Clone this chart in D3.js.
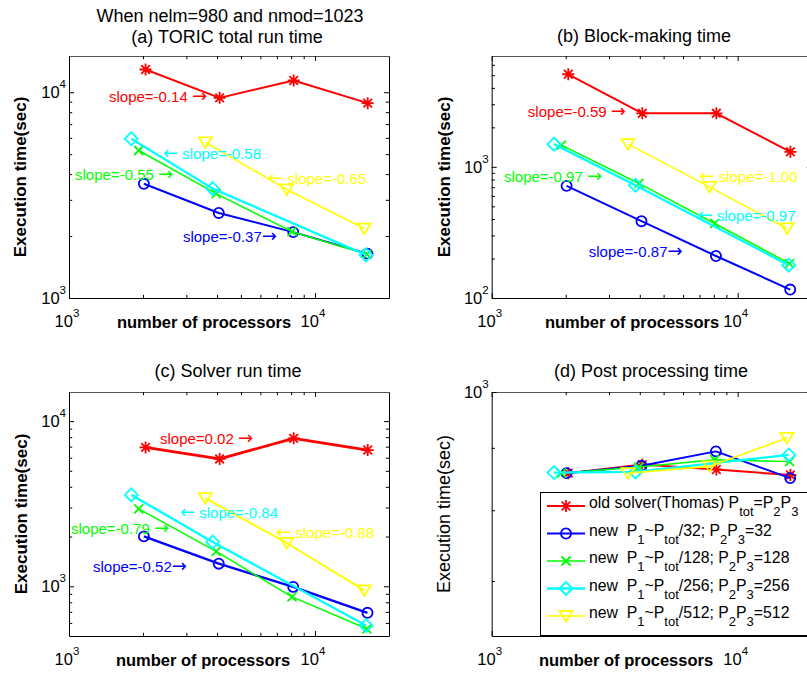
<!DOCTYPE html>
<html>
<head>
<meta charset="utf-8">
<script src="https://cdn.jsdelivr.net/npm/d3@7"></script>
<style>
  html, body { margin: 0; padding: 0; background: #fff; }
  svg { display: block; font-family: "Liberation Sans", Arial, Helvetica, sans-serif; }
</style>
</head>
<body>
<svg id="fig" width="807" height="679"></svg>
<script>
// Processor counts for each solver configuration
const procOld  = [2048, 4096, 8192, 16384];
const procP32  = [2016, 4064, 8160, 16352];
const procP128 = [1920, 3968, 8064, 16256];
const procP256 = [1792, 3840, 16128];
const procP512 = [3584, 7680, 15872];

// (a) TORIC total run time, seconds
const totalOld  = [12900, 9390, 11400, 8850];
const totalP32  = [3590, 2590, 2090, 1643];
const totalP128 = [5210, 3213, 2100, 1630];
const totalP256 = [5940, 3400, 1620];
const totalP512 = [5710, 3370, 2175];

// (b) Block-making time, seconds
const blockOld  = [5080, 2560, 2560, 1302];
const blockP32  = [716, 385, 209, 116];
const blockP128 = [1466, 747, 370, 183];
const blockP256 = [1490, 724, 178];
const blockP512 = [1490, 703, 339];

// (c) Solver run time, seconds
const solverOld  = [6930, 5900, 7863, 6680];
const solverP32  = [2004, 1370, 991, 691];
const solverP128 = [2945, 1626, 863, 553];
const solverP256 = [3575, 1853, 579];
const solverP512 = [3417, 1828, 945];

// (d) Post processing time, seconds
const postOld  = [858, 872, 864, 855];
const postP32  = [858, 870, 894, 850];
const postP128 = [858, 868, 880, 877];
const postP256 = [859, 860, 888];
const postP512 = [858, 869, 917];

// Axis ranges and tick labels
const xDomain = [1000, 20000];
const xMajorTicks = [1000, 10000];
const yDomainTotal  = [1000, 15000];
const yDomainBlock  = [100, 7000];
const yDomainSolver = [500, 15000];
const yDomainPost   = [631, 1000];
const yMajorTotal  = [1000, 10000];
const yMajorBlock  = [100, 1000];
const yMajorSolver = [1000, 10000];
const yMajorPost   = [1000];

// Fitted-slope annotations, anchored in data coordinates (processors, seconds)
// arrow: "r" = arrow after the text, "l" = arrow before it; gap: space between text and arrow
const notesTotal = [
  { s: 0, text: "slope=-0.14", arrow: "r", gap: true,  p: 1454, t: 9460 },
  { s: 3, text: "slope=-0.58", arrow: "l", gap: true,  p: 2410, t: 5000 },
  { s: 2, text: "slope=-0.55", arrow: "r", gap: true,  p: 1058, t: 3960 },
  { s: 4, text: "slope=-0.65", arrow: "l", gap: true,  p: 6445, t: 3785 },
  { s: 1, text: "slope=-0.37", arrow: "r", gap: false, p: 2906, t: 1977 }
];
const notesBlock = [
  { s: 0, text: "slope=-0.59", arrow: "r", gap: true,  p: 1403, t: 2624 },
  { s: 2, text: "slope=-0.97", arrow: "r", gap: true,  p: 1122, t: 841 },
  { s: 4, text: "slope=-1.00", arrow: "l", gap: true,  p: 6993, t: 841 },
  { s: 3, text: "slope=-0.97", arrow: "l", gap: true,  p: 6864, t: 423 },
  { s: 1, text: "slope=-0.87", arrow: "r", gap: false, p: 2481, t: 226 }
];
const notesSolver = [
  { s: 0, text: "slope=0.02",  arrow: "r", gap: true,  p: 2344, t: 7811 },
  { s: 3, text: "slope=-0.84", arrow: "l", gap: true,  p: 2826, t: 2793 },
  { s: 2, text: "slope=-0.79", arrow: "r", gap: true,  p: 1019, t: 2223 },
  { s: 4, text: "slope=-0.88", arrow: "l", gap: true,  p: 6942, t: 2104 },
  { s: 1, text: "slope=-0.52", arrow: "r", gap: false, p: 1252, t: 1315 }
];

const legendLabels = [
  "old solver(Thomas) P_{tot}=P_{2}P_{3}",
  "new  P_{1}~P_{tot}/32; P_{2}P_{3}=32",
  "new  P_{1}~P_{tot}/128; P_{2}P_{3}=128",
  "new  P_{1}~P_{tot}/256; P_{2}P_{3}=256",
  "new  P_{1}~P_{tot}/512; P_{2}P_{3}=512"
];

// Series styling (same order as the legend)
const seriesProcs   = [procOld, procP32, procP128, procP256, procP512];
const seriesColors  = ["#ff0000", "#0000ff", "#00ff00", "#00ffff", "#ffff00"];
const seriesMarkers = ["star", "circle", "cross", "diamond", "triangle"];
const seriesWidths  = [2, 2, 1.5, 2.3, 1.6];
const solverWidths  = [2.8, 2.4, 1.5, 2.4, 2];

const svg = d3.select("#fig");

const panels = [
  { values: [totalOld, totalP32, totalP128, totalP256, totalP512], yDomain: yDomainTotal, yMajor: yMajorTotal,
    notes: notesTotal, left: 69, top: 56, bottom: 298, widths: seriesWidths,
    titles: [["When nelm=980 and nmod=1023", 230, 22], ["(a) TORIC total run time", 227, 43]],
    xlabelX: 204, ylabelX: 20, ylabelBold: true },
  { values: [blockOld, blockP32, blockP128, blockP256, blockP512], yDomain: yDomainBlock, yMajor: yMajorBlock,
    notes: notesBlock, left: 491.7, top: 56, bottom: 298, widths: seriesWidths,
    titles: [["(b) Block-making time", 644, 42]],
    xlabelX: 632, ylabelX: 444, ylabelBold: true },
  { values: [solverOld, solverP32, solverP128, solverP256, solverP512], yDomain: yDomainSolver, yMajor: yMajorSolver,
    notes: notesSolver, left: 69, top: 392, bottom: 636, widths: solverWidths,
    titles: [["(c) Solver run time", 228, 377]],
    xlabelX: 203, ylabelX: 21, ylabelBold: true },
  { values: [postOld, postP32, postP128, postP256, postP512], yDomain: yDomainPost, yMajor: yMajorPost,
    notes: [], left: 491.7, top: 392, bottom: 636, widths: seriesWidths,
    titles: [["(d) Post processing time", 651, 377]],
    xlabelX: 626, ylabelX: 444, ylabelBold: false, legend: true }
];

const AXIS_W = 320;

function minorTicks(domain) {
  const out = [];
  const k0 = Math.floor(Math.log10(domain[0])), k1 = Math.ceil(Math.log10(domain[1]));
  for (let k = k0; k <= k1; k++) {
    for (let m = 2; m <= 9; m++) {
      const v = m * Math.pow(10, k);
      if (v > domain[0] * 1.0001 && v < domain[1] * 0.9999) out.push(v);
    }
  }
  return out;
}

function markerPath(type) {
  switch (type) {
    case "star": return "M-6,0H6M0,-6V6M-4.3,-4.3L4.3,4.3M-4.3,4.3L4.3,-4.3";
    case "cross": return "M-4.5,-4.5L4.5,4.5M-4.5,4.5L4.5,-4.5";
    case "diamond": return "M0,-6.5L6.5,0L0,6.5L-6.5,0Z";
    case "triangle": return "M-6.5,-5H6.5L0,5.5Z";
    default: return d3.symbol(d3.symbolCircle, 80)();
  }
}

function drawMarker(g, type, cx, cy, color) {
  g.append("path")
    .attr("d", markerPath(type))
    .attr("transform", `translate(${cx},${cy})`)
    .attr("fill", "none")
    .attr("stroke", color)
    .attr("stroke-width", 1.8);
}

function powLabel(g, px, py, exp, anchor) {
  const t = g.append("text")
    .attr("x", px).attr("y", py)
    .attr("text-anchor", anchor)
    .attr("font-size", 16.5)
    .attr("fill", "#000");
  t.append("tspan").text("10");
  t.append("tspan").attr("dy", -10).attr("font-size", 11.5).text(exp);
}

function richText(t, str, subSize, subShift) {
  const re = /_\{([^}]*)\}/g;
  let last = 0, m, shifted = 0;
  while ((m = re.exec(str)) !== null) {
    if (m.index > last) {
      t.append("tspan").attr("dy", -shifted).text(str.slice(last, m.index));
      shifted = 0;
    }
    t.append("tspan").attr("dy", subShift - shifted).attr("font-size", subSize).text(m[1]);
    shifted = subShift;
    last = re.lastIndex;
  }
  if (last < str.length) t.append("tspan").attr("dy", -shifted).text(str.slice(last));
}

// slope label with an arrow glyph set in a font whose arrows are full width
function slopeNote(g, n, px, py) {
  const t = g.append("text").attr("x", px).attr("y", py).attr("dy", "0.35em")
    .attr("font-size", 15).attr("fill", seriesColors[n.s])
    .style("white-space", "pre");
  const arrow = (ch) => t.append("tspan")
    .attr("font-family", '"DejaVu Sans", sans-serif')
    .attr("font-size", 18).text(ch);
  if (n.arrow === "l") {
    arrow("\u2190");
    t.append("tspan").text(" " + n.text);
  } else {
    t.append("tspan").text(n.text + (n.gap ? " " : ""));
    arrow("\u2192");
  }
}

panels.forEach(cfg => {
  const g = svg.append("g");
  const x = d3.scaleLog().domain(xDomain).range([cfg.left, cfg.left + AXIS_W]);
  const y = d3.scaleLog().domain(cfg.yDomain).range([cfg.bottom, cfg.top]);

  const xMinor = minorTicks(xDomain);
  const yMinor = minorTicks(cfg.yDomain);
  const xTicks = xMajorTicks.concat(xMinor);
  const yTicks = cfg.yMajor.concat(yMinor);

  const styleAxis = (sel, majors, color) => {
    sel.select(".domain").attr("stroke", color || "#000");
    sel.selectAll(".tick line").attr("stroke", "#000");
    sel.selectAll(".tick").filter(d => majors.includes(d)).select("line")
      .each(function () {
        const l = d3.select(this);
        ["x2", "y2"].forEach(a => { const v = +l.attr(a); if (v) l.attr(a, v * 5 / 3.2); });
      });
  };

  g.append("g").attr("transform", `translate(0,${cfg.bottom})`)
    .call(d3.axisBottom(x).tickValues(xTicks).tickSizeInner(-3.2).tickSizeOuter(0).tickFormat(""))
    .call(s => styleAxis(s, xMajorTicks));
  g.append("g").attr("transform", `translate(0,${cfg.top})`)
    .call(d3.axisTop(x).tickValues(xTicks).tickSizeInner(-3.2).tickSizeOuter(0).tickFormat(""))
    .call(s => styleAxis(s, xMajorTicks, "#555"));
  g.append("g").attr("transform", `translate(${cfg.left},0)`)
    .call(d3.axisLeft(y).tickValues(yTicks).tickSizeInner(-3.2).tickSizeOuter(0).tickFormat(""))
    .call(s => styleAxis(s, cfg.yMajor));
  g.append("g").attr("transform", `translate(${cfg.left + AXIS_W},0)`)
    .call(d3.axisRight(y).tickValues(yTicks).tickSizeInner(-3.2).tickSizeOuter(0).tickFormat(""))
    .call(s => styleAxis(s, cfg.yMajor));
  g.selectAll(".tick text").remove();

  // decade labels
  xMajorTicks.forEach(v => powLabel(g, x(v) - 2, cfg.bottom + 29, String(Math.round(Math.log10(v))), "middle"));
  cfg.yMajor.forEach(v => powLabel(g, cfg.left - 3, y(v) + 6, String(Math.round(Math.log10(v))), "end"));

  // titles and axis labels
  cfg.titles.forEach(([txt, tx, ty]) => {
    g.append("text").attr("x", tx).attr("y", ty).attr("text-anchor", "middle")
      .attr("font-size", 18).attr("fill", "#000").text(txt);
  });
  g.append("text").attr("x", cfg.xlabelX).attr("y", cfg.bottom + 30)
    .attr("text-anchor", "middle").attr("font-size", 16.5).attr("font-weight", "bold")
    .attr("fill", "#000").text("number of processors");
  const yc = (cfg.top + cfg.bottom) / 2;
  g.append("text")
    .attr("transform", `translate(${cfg.ylabelX},${yc}) rotate(-90)`)
    .attr("dy", "0.35em").attr("text-anchor", "middle")
    .attr("font-size", cfg.ylabelBold ? 17 : 18)
    .attr("font-weight", cfg.ylabelBold ? "bold" : "normal")
    .attr("fill", "#000").text("Execution time(sec)");

  // series lines and markers
  const line = d3.line().x(d => x(d[0])).y(d => y(d[1]));
  cfg.values.forEach((vals, i) => {
    const pts = seriesProcs[i].map((p, j) => [p, vals[j]]);
    g.append("path").datum(pts).attr("d", line)
      .attr("fill", "none").attr("stroke", seriesColors[i])
      .attr("stroke-width", cfg.widths[i]).attr("stroke-linejoin", "round");
    pts.forEach(d => drawMarker(g, seriesMarkers[i], x(d[0]), y(d[1]), seriesColors[i]));
  });

  // slope annotations
  cfg.notes.forEach(n => slopeNote(g, n, x(n.p), y(n.t)));

  // legend
  if (cfg.legend) {
    const lg = g.append("g");
    lg.append("rect").attr("x", 540.5).attr("y", 492.5).attr("width", 300).attr("height", 143)
      .attr("fill", "#fff").attr("stroke", "#000").attr("stroke-width", 1);
    legendLabels.forEach((lab, i) => {
      const ry = 506 + i * 27.5;
      lg.append("line").attr("x1", 547).attr("x2", 585).attr("y1", ry).attr("y2", ry)
        .attr("stroke", seriesColors[i]).attr("stroke-width", seriesWidths[i]);
      drawMarker(lg, seriesMarkers[i], 566, ry, seriesColors[i]);
      const t = lg.append("text").attr("x", 589).attr("y", ry + 2)
        .attr("font-size", 15.8).attr("fill", "#000")
        .style("white-space", "pre");
      richText(t, lab, 13, 8);
    });
  }
});
</script>
</body>
</html>
